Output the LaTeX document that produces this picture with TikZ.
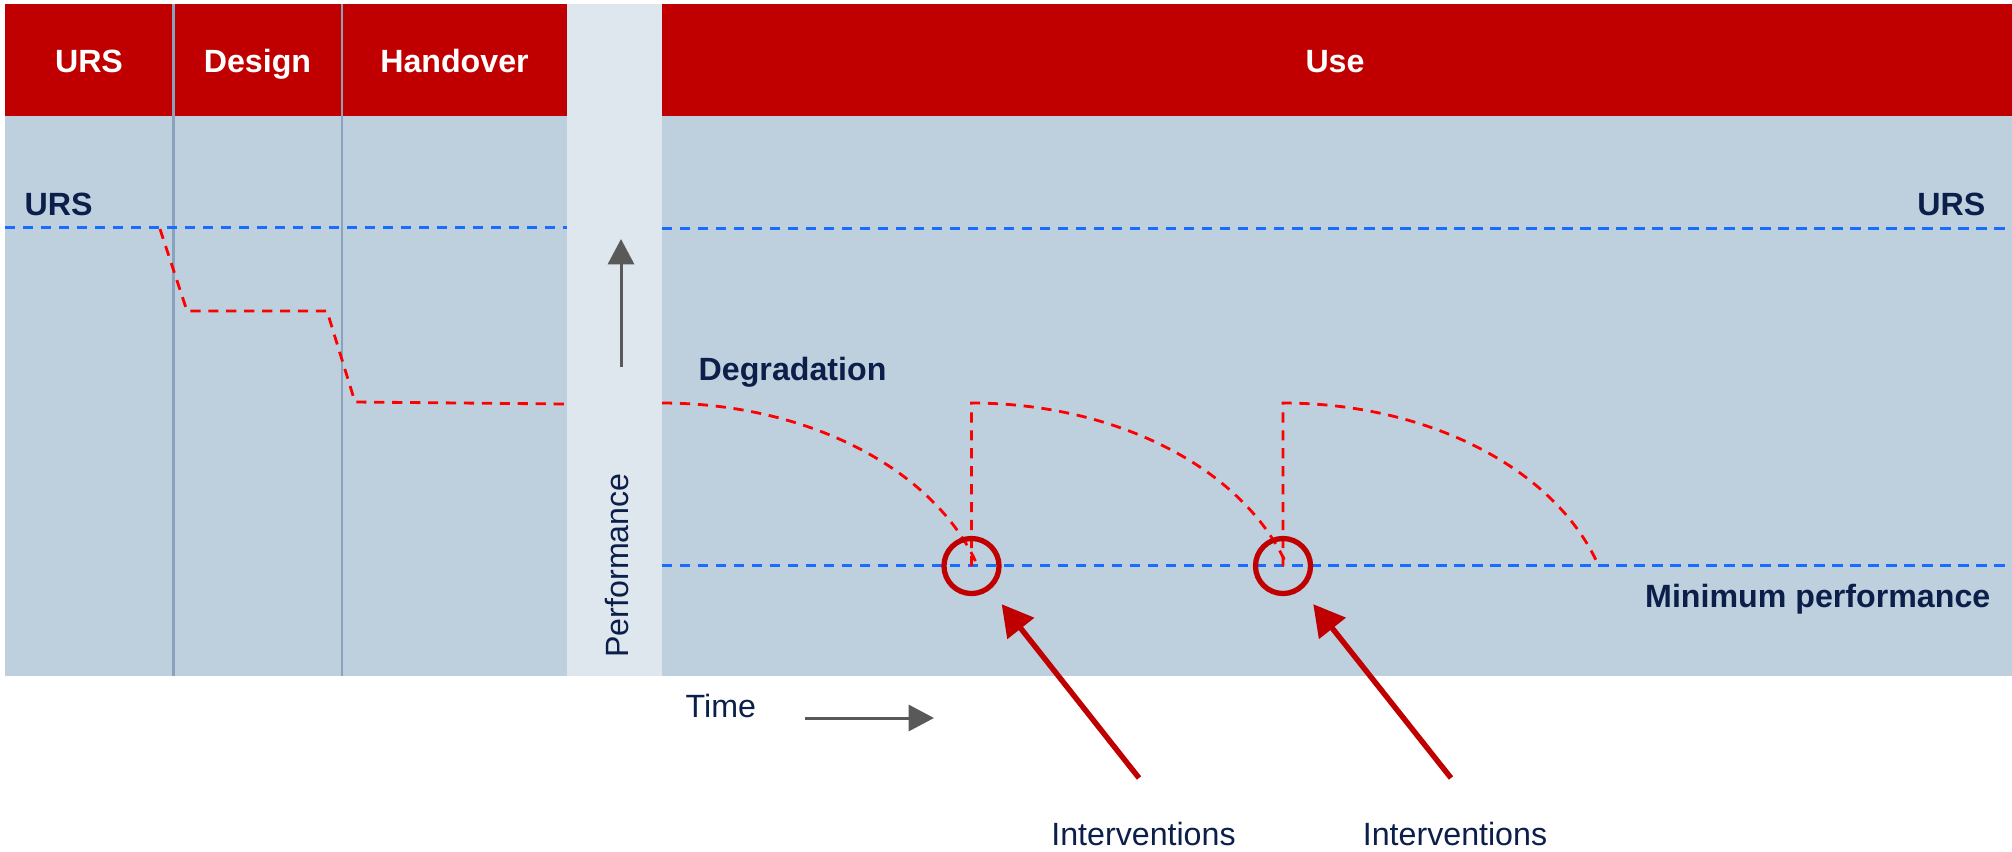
\documentclass[tikz,border=0pt]{standalone}
\usepackage{fontspec}
\setmainfont{Liberation Sans}
\usetikzlibrary{arrows.meta}
\definecolor{headred}{HTML}{C00000}
\definecolor{lanebg}{HTML}{BED0DE}
\definecolor{bandbg}{HTML}{DEE6EE}
\definecolor{navy}{HTML}{0B1F4A}
\definecolor{refblue}{HTML}{1A6BFF}
\definecolor{degred}{HTML}{FF0000}
\definecolor{arrowgrey}{HTML}{595959}
\definecolor{phaseline}{HTML}{8AA3BC}
\begin{document}
\begin{tikzpicture}[x=0.01cm,y=-0.01cm,
  font=\fontsize{9.15}{11}\selectfont,
  lbl/.style={inner sep=0pt,text=navy},
  boldlbl/.style={lbl,font=\fontsize{9.15}{11}\selectfont\bfseries},
  headlbl/.style={inner sep=0pt,text=white,anchor=base,font=\fontsize{9.15}{11}\selectfont\bfseries},
  phase/.style={draw=phaseline,line width=0.8pt},
  reflevel/.style={draw=refblue,line width=0.85pt,dash pattern=on 2.93pt off 2.19pt},
  degline/.style={draw=degred,line width=0.8pt,dash pattern=on 2.9pt off 2.2pt},
  ring/.style={circle,draw=headred,line width=1.5pt,minimum size=0.55cm,inner sep=0pt},
  callout/.style={draw=headred,line width=1.55pt,-{Triangle[length=8.8pt,width=9.4pt]},shorten >=0.185cm},
  axisarrow/.style={draw=arrowgrey,line width=0.85pt,-{Triangle[length=7.2pt,width=7.4pt]}}]

\useasboundingbox (0,0) rectangle (2012,851);
\fill[white] (0,0) rectangle (2012,851);

% lanes and phase header
\fill[bandbg] (567,4) rectangle (662,676);
\fill[lanebg] (5,116) rectangle (567,676);
\fill[lanebg] (662,116) rectangle (2012,676);
\fill[headred] (5,4) rectangle (567,116);
\fill[headred] (662,4) rectangle (2012,116);
\draw[phase] (173.5,4) -- (173.5,676);
\draw[phase] (342,4) -- (342,676);

\node[headlbl] (hurs) at (89,72) {URS};
\node[headlbl] (hdesign) at (257.5,72) {Design};
\node[headlbl] (hhand) at (454.5,72) {Handover};
\node[headlbl] (huse) at (1335,72) {Use};

% reference levels
\draw[reflevel] (5,227) -- (567,227);
\draw[reflevel] (662,228) -- (2012,228);
\draw[reflevel] (662,565) -- (2012,565);
\node[boldlbl,anchor=base west] (ursl) at (24,215) {URS};
\node[boldlbl,anchor=base east] (ursr) at (1986,215) {URS};
\node[boldlbl,anchor=base east] (minp) at (1991,607) {Minimum performance};
\node[boldlbl,anchor=base west] (degr) at (698,380) {Degradation};

% performance during the project phases
\draw[degline] (160,229) -- (187,311) -- (327,311) -- (355,402) -- (565,404);

% intervention points
\coordinate (c1pos) at (971.5,566);
\coordinate (c2pos) at (1283,566);

% degradation in use, restored by interventions
\draw[degline] plot[domain=90:18,samples=40,smooth] ({662+330*cos(\x)},{633-230*sin(\x)});
\draw[degline] (c1pos) -- plot[domain=90:18,samples=40,smooth] ({971.5+330*cos(\x)},{633-230*sin(\x)});
\draw[degline] (c2pos) -- plot[domain=90:18,samples=40,smooth] ({1283+330*cos(\x)},{633-230*sin(\x)});

\node[ring] (c1) at (c1pos) {};
\node[ring] (c2) at (c2pos) {};

\node[lbl,anchor=base] (i1) at (1143.5,845) {Interventions};
\node[lbl,anchor=base] (i2) at (1455,845) {Interventions};
\coordinate (t1) at (1139,778);
\coordinate (t2) at (1451,778);
\draw[callout] (t1) -- (c1);
\draw[callout] (t2) -- (c2);

% axes
\node[lbl,anchor=base,rotate=90] (perf) at (628,565.5) {Performance};
\coordinate (pa0) at (621,367);
\coordinate (pa1) at (621,239);
\draw[axisarrow] (pa0) -- (pa1);

\node[lbl,anchor=base west] (time) at (685,717) {Time};
\coordinate (ta0) at (805,718);
\coordinate (ta1) at (934,718);
\draw[axisarrow] (ta0) -- (ta1);

\end{tikzpicture}
\end{document}
